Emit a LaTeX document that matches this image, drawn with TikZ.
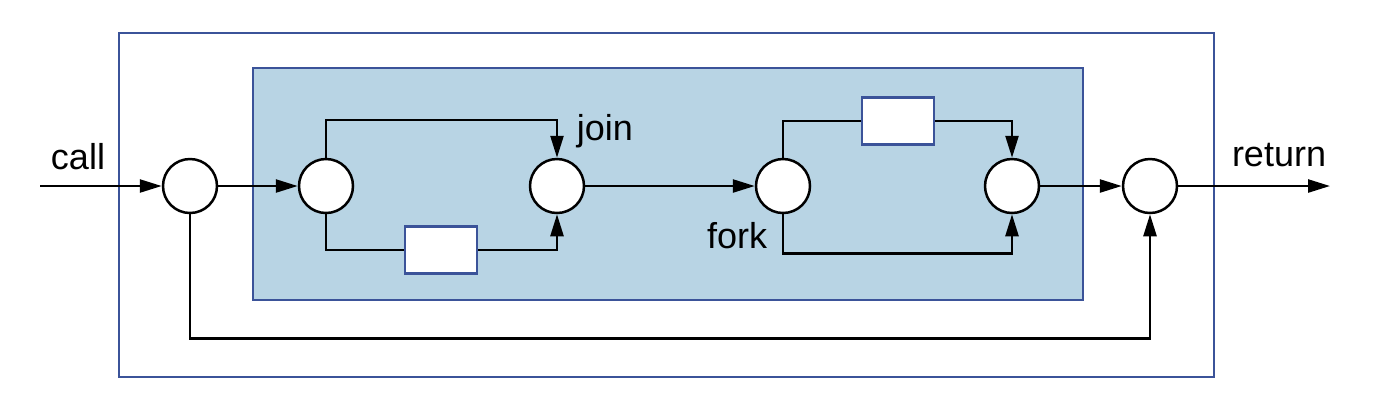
\documentclass[tikz,border=0pt]{standalone}
\usepackage{fontspec}
\setmainfont{Liberation Sans}
\usetikzlibrary{positioning, arrows.meta}
\definecolor{frameblue}{RGB}{59,83,153}
\definecolor{paneblue}{RGB}{184,212,228}

\begin{document}
\begin{tikzpicture}[x = 0.5pt, y = -0.5pt, line width = 1.25pt,
    place/.style = { draw, circle, fill = white, minimum size = 27pt, inner sep = 0pt },
    trans/.style = { draw = frameblue, fill = white, minimum width = 36pt, minimum height = 23.5pt, inner sep = 0pt },
    lbl/.style = { font = \fontsize{18}{20}\selectfont },
    flow/.style = { -{Triangle[length = 11pt, width = 6.5pt]} }]
    \useasboundingbox (0,0) rectangle (1374,404);
    % frames
    \draw[frameblue, line width = 1pt] (119,33) rectangle (1214,377);
    \draw[frameblue, line width = 1pt, fill = paneblue] (253,68) rectangle (1083,300);
    % places and boxes
    \node[place] (entry) at (190,186) {};
    \node[place] (split) at (326,186) {};
    \node[place] (join)  at (557,186) {};
    \node[place] (fork)  at (783,186) {};
    \node[place] (merge) at (1012,186) {};
    \node[place] (exit)  at (1150,186) {};
    \node[trans] (lowbox) at (441,250) {};
    \node[trans] (upbox)  at (898,121) {};
    \coordinate (callin) at (40,186);
    \coordinate (retout) at (1330,186);
    % labels
    \node[lbl] (calllbl) at (78,157) {call};
    \node[lbl] (joinlbl) at (605,131) {join};
    \node[lbl] (forklbl) at (737,236) {fork};
    \node[lbl] (retlbl)  at (1279,155) {return};
    % connectors
    \draw[flow] (callin) -- (entry);
    \draw[flow] (entry) -- (split);
    \draw[flow] (split.north) -- ++(0,-38) -| (join.north);
    \draw (split.south) |- (lowbox.west);
    \draw[flow] (lowbox.east) -| (join.south);
    \draw[flow] (join) -- (fork);
    \draw (fork.north) |- (upbox.west);
    \draw[flow] (upbox.east) -| (merge.north);
    \draw[flow] (fork.south) -- ++(0,39) -| (merge.south);
    \draw[flow] (merge) -- (exit);
    \draw[flow] (exit) -- (retout);
    \draw[flow] (entry.south) -- ++(0,124) -| (exit.south);
\end{tikzpicture}
\end{document}
